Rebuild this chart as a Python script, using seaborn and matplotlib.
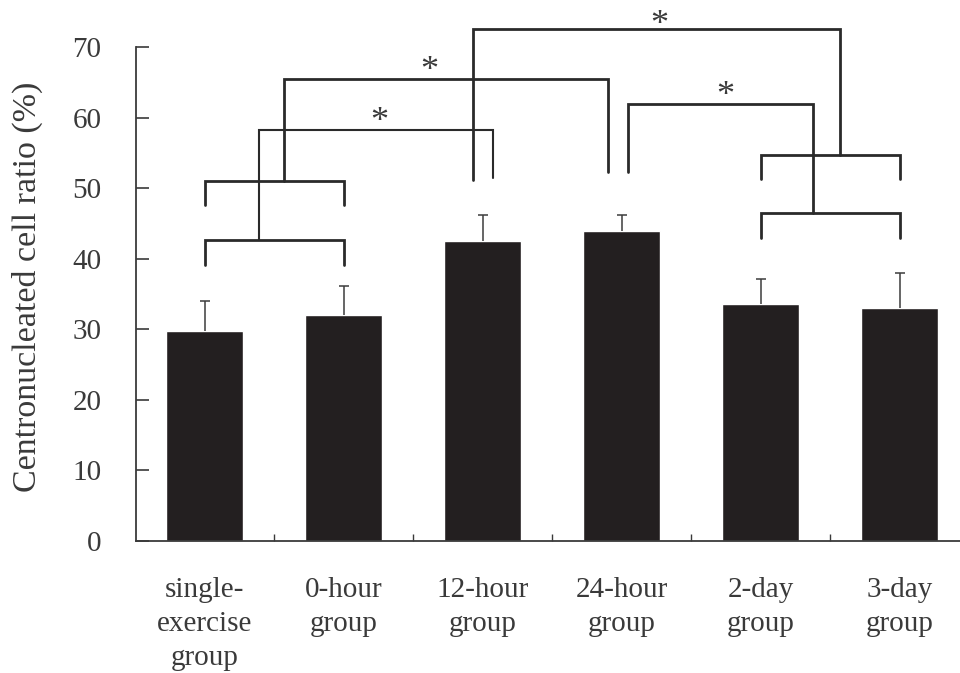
import numpy as np
import pandas as pd
import matplotlib
matplotlib.use('Agg')
import matplotlib.pyplot as plt
import seaborn as sns

# Values
groups = ['single-\nexercise\ngroup', '0-hour\ngroup', '12-hour\ngroup',
          '24-hour\ngroup', '2-day\ngroup', '3-day\ngroup']
means = [29.8, 32.0, 42.6, 44.0, 33.6, 33.0]
sds = [4.2, 4.1, 3.6, 2.2, 3.5, 5.0]

# Group brackets: (left bar, right bar, top level, leg bottom)
group_brackets = [(0, 1, 42.7, 39.1), (0, 1, 51.1, 47.7),
                  (4, 5, 54.8, 51.3), (4, 5, 46.5, 43.0)]
# Significance connectors: (x start, y start, x end, y end, line level, star x, lw)
sig_links = [(0.395, 42.7, 2.076, 51.5, 58.3, 1.26, 1.5),
             (0.575, 51.1, 2.90, 52.3, 65.5, 1.62, 2.0),
             (1.93, 51.2, 4.57, 54.8, 72.6, 3.27, 2.0),
             (3.05, 52.3, 4.38, 46.5, 62.0, 3.75, 2.0)]

df = pd.DataFrame({'group': groups, 'mean': means, 'sd': sds})

sns.set_style('ticks')
plt.rcParams['font.family'] = ['Liberation Serif', 'DejaVu Serif']
text_col = '#3a3a3a'
line_col = '#2a2a2a'

fig = plt.figure(figsize=(9.6, 6.73), dpi=100)
ax = fig.add_axes([0.1417, 0.1961, 0.8583, 0.7336])

sns.barplot(data=df, x='group', y='mean', order=groups, color='#231f20',
            saturation=1, width=0.554, errorbar=None, ax=ax)
# upper error bars only
eb = ax.errorbar(np.arange(len(groups)), df['mean'], yerr=[np.zeros(len(sds)), df['sd']],
                 fmt='none', ecolor='#3c3c3c', elinewidth=1.1, capsize=3.6, capthick=1.1)
eb[1][0].set_visible(False)

for x1, x2, top, bot in group_brackets:
    ax.plot([x1, x1, x2, x2], [bot, top, top, bot], color=line_col, lw=2.0,
            clip_on=False, solid_joinstyle='miter')

for i, (xa, ya, xb, yb, lvl, sx, lw) in enumerate(sig_links):
    ax.plot([xa, xa, xb, xb], [ya, lvl, lvl, yb], color=line_col, lw=lw,
            clip_on=False, solid_joinstyle='miter')
    off = 0.5 if lvl > 70 else 1.0
    ax.text(sx, lvl + off, '*', ha='center', va='center', fontsize=26,
            color=text_col, clip_on=False)

ax.set_xlim(-0.493, 5.435)
ax.set_ylim(0, 70)
ax.set_yticks(range(0, 71, 10))
ax.set_xticks(range(len(groups)))
ax.set_xticklabels(groups, fontsize=21, color=text_col, linespacing=1.4)
ax.set_xticks(np.arange(0.5, 5, 1), minor=True)
ax.tick_params(axis='x', which='major', length=0, pad=26)
ax.tick_params(axis='x', which='minor', direction='in', length=5, width=1, colors=text_col)
ax.tick_params(axis='y', direction='in', length=9, width=1.2, pad=25,
               labelsize=21, labelcolor=text_col, color=text_col)
ax.set_xlabel('')
ax.set_ylabel('Centronucleated cell ratio (%)', fontsize=24.5, color=text_col)
ax.yaxis.set_label_coords(-0.113, 0.514)

for side in ['top', 'right']:
    ax.spines[side].set_visible(False)
for side in ['left', 'bottom']:
    ax.spines[side].set_color(text_col)
    ax.spines[side].set_linewidth(1.3)

fig.savefig('out.png', dpi=100)
